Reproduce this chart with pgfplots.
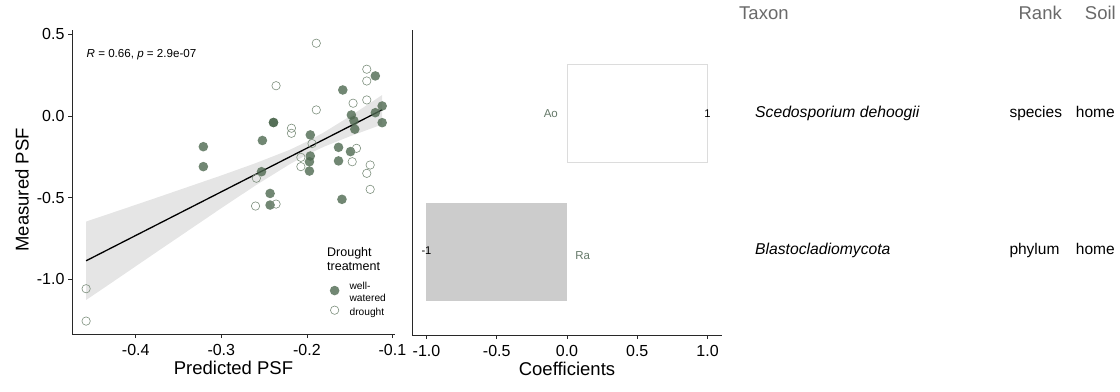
\documentclass[border=0pt]{standalone}
\usepackage{fontspec}
\setmainfont{Liberation Sans}
\usepackage{pgfplots}
\pgfplotsset{compat=1.18}
\definecolor{ptgreen}{RGB}{78,105,80}
\definecolor{opengreen}{RGB}{125,143,125}
\definecolor{bandgray}{RGB}{229,229,229}
\definecolor{axisdark}{RGB}{40,40,40}
\definecolor{labgreen}{RGB}{100,120,104}
\definecolor{hdrgray}{RGB}{105,105,105}
\definecolor{barg}{RGB}{204,204,204}
\definecolor{boxg}{RGB}{220,220,220}
\newcommand{\fs}[2]{\fontsize{#1bp}{#2bp}\selectfont}
\pgfplotsset{
  psfstyle/.style={
    scale only axis,
    axis x line*=bottom, axis y line*=left,
    axis line style={axisdark, line width=0.6bp, -},
    tick align=outside, major tick length=4bp,
    tick style={axisdark, line width=0.6bp},
    /pgf/number format/assume math mode=true,
    tick label style={font=\fs{16}{19}, text=black},
    xticklabel style={yshift=-3bp},
    label style={font=\fs{18.5}{22}, text=black},
    clip=false,
  }
}
\begin{document}
\begin{tikzpicture}
\useasboundingbox (0bp,0bp) rectangle (1120bp,392bp);
% ---------------- left panel ----------------
\begin{axis}[psfstyle,
  at={(72bp,58bp)}, anchor=south west, width=323bp, height=304bp,
  xmin=-0.4745, xmax=-0.097, ymin=-1.334, ymax=0.526,
  xtick={-0.4,-0.3,-0.2,-0.1}, ytick={-1,-0.5,0,0.5},
  xticklabel style={/pgf/number format/.cd, fixed, fixed zerofill, precision=1},
  yticklabel style={/pgf/number format/.cd, fixed, fixed zerofill, precision=1},
  xlabel={Predicted PSF}, ylabel={Measured PSF},
  xlabel style={at={(axis description cs:0.5,-0.112)}, anchor=center},
  ylabel style={at={(axis description cs:-0.155,0.474)}, anchor=center},
  legend style={draw=none, fill=none, at={(axis description cs:0.797,0.177)}, anchor=north west,
    font=\fs{10.2}{11.5}, cells={anchor=west, align=left}, row sep=1bp, inner sep=0pt},
  legend image code/.code={\path[draw=none, fill=none] (-5bp,0bp) -- (13bp,0bp); \draw[#1, only marks] plot coordinates {(0bp,2bp)};},
]
\addplot[fill=bandgray, draw=none, forget plot] coordinates {
 (-0.458,-0.646) (-0.42,-0.579) (-0.38,-0.508) (-0.34,-0.436) (-0.30,-0.364)
 (-0.26,-0.289) (-0.22,-0.207) (-0.20,-0.157) (-0.18,-0.100) (-0.15,-0.003)
 (-0.112,0.128) (-0.112,-0.052) (-0.15,-0.125) (-0.18,-0.188) (-0.20,-0.237)
 (-0.22,-0.295) (-0.26,-0.425) (-0.30,-0.564) (-0.34,-0.706) (-0.38,-0.848)
 (-0.42,-0.991) (-0.458,-1.126)} -- cycle;
\addplot[black, line width=1.3bp, forget plot] coordinates {(-0.458,-0.886) (-0.112,0.038)};
\addplot[only marks, mark=*, mark size=4.8bp, draw=none, mark options={fill=ptgreen, fill opacity=0.8, draw opacity=0}] coordinates {
 (-0.120,0.245) (-0.158,0.159) (-0.239,-0.040) (-0.239,-0.040) (-0.252,-0.150)
 (-0.321,-0.188) (-0.321,-0.310) (-0.196,-0.116) (-0.196,-0.245) (-0.197,-0.280)
 (-0.197,-0.337) (-0.163,-0.192) (-0.149,-0.218) (-0.163,-0.275) (-0.148,0.006)
 (-0.145,-0.029) (-0.144,-0.081) (-0.120,0.020) (-0.112,0.061) (-0.112,-0.041)
 (-0.253,-0.341) (-0.243,-0.474) (-0.243,-0.545) (-0.159,-0.510)};
\addlegendentry{well-\\watered}
\addplot[only marks, mark=o, mark size=4.2bp, draw=none, mark options={draw=opengreen, line width=0.6bp}] coordinates {
 (-0.189,0.445) (-0.130,0.286) (-0.130,0.214) (-0.236,0.185) (-0.146,0.078)
 (-0.130,0.098) (-0.189,0.037) (-0.218,-0.075) (-0.218,-0.106) (-0.194,-0.169)
 (-0.142,-0.198) (-0.147,-0.280) (-0.207,-0.253) (-0.207,-0.310) (-0.126,-0.300)
 (-0.130,-0.351) (-0.126,-0.449) (-0.259,-0.381) (-0.236,-0.539) (-0.260,-0.551)
 (-0.458,-1.057) (-0.458,-1.255)};
\addlegendentry{drought}
\end{axis}
% ---------------- middle panel ----------------
\begin{axis}[psfstyle,
  at={(412bp,57bp)}, anchor=south west, width=310bp, height=305bp,
  xmin=-1.103, xmax=1.103, ymin=0.4, ymax=2.6,
  xtick={-1,-0.5,0,0.5,1}, ytick=\empty,
  xticklabel style={/pgf/number format/.cd, fixed, fixed zerofill, precision=1},
  xlabel={Coefficients},
  xlabel style={at={(axis description cs:0.5,-0.112)}, anchor=center},
]
\addplot[xbar, bar width=0.705, bar shift=0pt, fill=white, draw=boxg, line width=0.9bp] coordinates {(1,2)};
\addplot[xbar, bar width=0.705, bar shift=0pt, fill=barg, draw=none] coordinates {(-1,1)};
\node[anchor=east, font=\fs{11.5}{13}, text=labgreen] at (axis cs:-0.04,2) {Ao};
\node[anchor=west, font=\fs{11.5}{13}, text=labgreen] at (axis cs:0.035,0.97) {Ra};
\node[font=\fs{11.2}{13}, text=black] at (axis cs:1,2) {1};
\node[font=\fs{11.2}{13}, text=black] at (axis cs:-1,1.01) {-1};
\end{axis}
% ---------------- annotations ----------------
\node[anchor=base west, inner sep=0pt, font=\fs{11.6}{14}] at (86.5bp,334.3bp) {\textit{R} = 0.66, \textit{p} = 2.9e-07};
\node[anchor=north west, inner sep=0pt, align=left, font=\fs{12.5}{14}] at (327bp,145bp) {Drought\\treatment};
% ---------------- table ----------------
\node[anchor=base west, inner sep=0pt, font=\fs{18.5}{22}, text=hdrgray] at (739bp,372bp) {Taxon};
\node[anchor=base east, inner sep=0pt, font=\fs{18.5}{22}, text=hdrgray] at (1062bp,372bp) {Rank};
\node[anchor=base east, inner sep=0pt, font=\fs{18.5}{22}, text=hdrgray] at (1116bp,372bp) {Soil};
\node[anchor=base west, inner sep=0pt, font=\fs{15.7}{18}] at (755bp,274.7bp) {\textit{Scedosporium dehoogii}};
\node[anchor=base west, inner sep=0pt, font=\fs{15.5}{18}] at (1009.3bp,274.7bp) {species};
\node[anchor=base west, inner sep=0pt, font=\fs{15.5}{18}] at (1075.7bp,274.7bp) {home};
\node[anchor=base west, inner sep=0pt, font=\fs{15.7}{18}] at (755bp,137bp) {\textit{Blastocladiomycota}};
\node[anchor=base west, inner sep=0pt, font=\fs{15.5}{18}] at (1009.3bp,137bp) {phylum};
\node[anchor=base west, inner sep=0pt, font=\fs{15.5}{18}] at (1075.7bp,137bp) {home};
\end{tikzpicture}
\end{document}
